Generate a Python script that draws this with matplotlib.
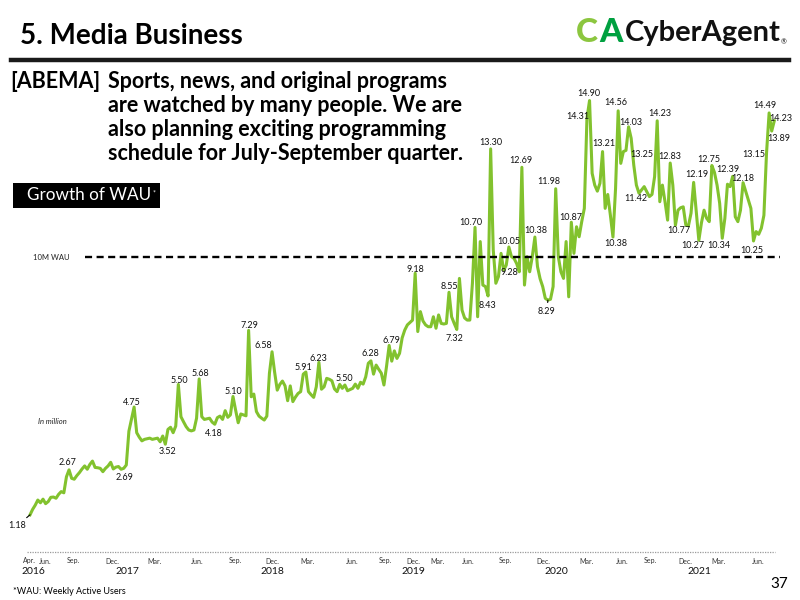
import matplotlib
matplotlib.use('Agg')
import matplotlib.pyplot as plt
from matplotlib.patches import Rectangle
from matplotlib.lines import Line2D

plt.rcParams['font.family'] = ['Lato', 'DejaVu Sans']

# ABEMA weekly active users (millions), one value per week, Apr 2016 -> Jun 2021
wau = [
    1.18, 1.36, 1.50, 1.67, 1.58, 1.70, 1.55, 1.62, 1.76, 1.77,
    1.73, 1.86, 1.95, 1.91, 2.44, 2.67, 2.39, 2.36, 2.48, 2.58,
    2.70, 2.80, 2.69, 2.85, 2.96, 2.75, 2.74, 2.72, 2.61, 2.72,
    2.80, 2.92, 2.70, 2.76, 2.78, 2.69, 2.72, 2.83, 3.95, 4.35,
    4.75, 3.90, 3.75, 3.63, 3.68, 3.70, 3.72, 3.68, 3.70, 3.72,
    3.60, 3.79, 3.52, 4.01, 4.08, 3.90, 4.12, 5.50, 4.43, 4.26,
    4.10, 3.99, 3.96, 3.99, 4.38, 5.68, 4.43, 4.34, 4.36, 4.38,
    4.25, 4.18, 4.40, 4.45, 4.34, 4.63, 4.41, 4.49, 5.10, 4.65,
    4.23, 4.52, 4.49, 4.46, 7.29, 5.09, 5.18, 4.60, 4.45, 4.38,
    4.32, 4.45, 5.87, 6.58, 5.90, 5.31, 5.50, 5.61, 5.45, 4.96,
    5.45, 4.93, 5.08, 5.20, 5.26, 5.84, 5.91, 5.26, 5.16, 5.07,
    5.42, 6.23, 5.34, 5.42, 5.70, 5.67, 5.62, 5.35, 5.26, 5.50,
    5.37, 5.48, 5.29, 5.33, 5.37, 5.51, 5.37, 5.57, 5.51, 5.75,
    6.20, 6.28, 5.84, 6.14, 6.00, 5.87, 5.48, 6.10, 6.79, 6.27,
    6.61, 6.36, 6.53, 7.04, 7.30, 7.47, 7.55, 7.63, 9.18, 7.25,
    7.91, 7.60, 7.47, 7.41, 7.41, 7.74, 7.36, 7.80, 7.52, 7.50,
    7.52, 8.55, 7.74, 7.52, 7.32, 9.01, 7.96, 7.70, 7.63, 7.63,
    8.85, 10.70, 7.74, 10.23, 8.79, 8.74, 8.43, 13.30, 9.95, 8.85,
    9.07, 9.84, 9.28, 9.45, 10.05, 9.73, 9.67, 9.50, 9.23, 12.69,
    8.79, 9.73, 9.23, 9.73, 10.38, 9.40, 9.00, 8.74, 8.35, 8.29,
    8.32, 8.74, 11.98, 9.73, 9.23, 9.01, 10.23, 8.40, 10.87, 9.84,
    10.72, 10.39, 10.89, 11.33, 14.31, 14.90, 12.49, 12.10, 11.90, 12.16,
    13.21, 11.33, 11.79, 11.11, 10.38, 11.99, 14.56, 12.82, 13.21, 13.25,
    14.03, 13.65, 12.76, 12.10, 11.83, 11.94, 12.05, 11.88, 11.72, 11.79,
    12.38, 14.23, 11.55, 12.10, 11.55, 10.94, 12.83, 12.10, 10.77, 11.27,
    11.35, 11.38, 10.78, 10.75, 11.17, 12.19, 11.24, 10.27, 10.85, 11.27,
    11.00, 10.89, 12.75, 12.52, 12.10, 11.50, 10.34, 11.00, 12.13, 12.05,
    12.39, 11.05, 10.89, 11.27, 12.18, 11.90, 11.61, 11.33, 10.25, 10.56,
    10.47, 10.67, 11.10, 13.15, 14.49, 13.89, 14.23,
]

# labelled weeks and the figures printed next to them
label_weeks = [0, 15, 35, 40, 52, 57, 65, 71, 78, 84, 93, 106, 111, 119, 131, 138,
               148, 164, 161, 171, 177, 176, 184, 182, 189, 194, 202, 199, 208,
               214, 215, 220, 224, 226, 230, 229, 235, 241, 246, 248, 255, 257,
               262, 266, 270, 274, 278, 283, 284, 285, 286]
label_texts = ['1.18', '2.67', '2.69', '4.75', '3.52', '5.50', '5.68', '4.18', '5.10',
               '7.29', '6.58', '5.91', '6.23', '5.50', '6.28', '6.79', '9.18', '7.32',
               '8.55', '10.70', '13.30', '8.43', '10.05', '9.28', '12.69', '10.38',
               '11.98', '8.29', '10.87', '14.31', '14.90', '13.21', '10.38', '14.56',
               '14.03', '13.25', '11.42', '14.23', '12.83', '10.77', '12.19', '10.27',
               '12.75', '10.34', '12.39', '12.18', '10.25', '13.15', '14.49', '13.89',
               '14.23']
# text offset from the point, in pixels (x right, y up)
label_offsets = [(-13, -11), (-2, 7), (3, -8), (-2, 5), (2, -7), (1, 4), (1, 5), (-1, -9),
                 (0, 5), (1, 5), (-9, 6), (-2, 5), (0, 4), (5, 6), (-1, 7), (2, 5),
                 (0, 4), (-2, -9), (0, 6), (-4, 5), (0, 6), (-1, -10), (0, 6), (6, -2),
                 (-1, 7), (1, 7), (-7, 7), (-1, -11), (-1, 5), (-9, 2), (-1, 7), (1, 8),
                 (3, -6), (-2, 8), (2, 4), (16, -4), (-6, -9), (3, 7), (0, 7), (3, -5),
                 (3, 8), (-6, -5), (-3, 6), (-3, -7), (-5, 7), (0, 4), (-2, -10),
                 (-13, -1), (-4, 7), (7, -7), (7, 2)]
leader_labels = ['1.18', '8.29']

month_labels = ['Apr.', 'Jun.', 'Sep.', 'Dec.', 'Mar.', 'Jun.', 'Sep.', 'Dec.',
                'Mar.', 'Jun.', 'Sep.', 'Dec.', 'Mar.', 'Jun.', 'Sep.', 'Dec.',
                'Mar.', 'Jun.', 'Sep.', 'Dec.', 'Mar.', 'Jun.']
month_pos = [-0.4, 5.8, 16.5, 31.5, 48.0, 64.2, 78.8, 93.0, 106.8, 123.7, 136.4,
             147.2, 156.4, 168.3, 182.5, 197.1, 214.0, 227.6, 238.2, 251.7, 264.4, 279.7]
year_labels = ['2016', '2017', '2018', '2019', '2020', '2021']
year_pos = [1.2, 37.3, 93.0, 147.2, 202.1, 257.1]

TEN_M_LEVEL = 9.72   # where the reference draws its "10M WAU" line
GREEN = '#82C22E'


def fx(x):
    return x / 800


def fy(y):
    return 1 - y / 600


fig = plt.figure(figsize=(8, 6), dpi=100)
ax = fig.add_axes([0, 0, 1, 1])
ax.set_xlim(-11.53, 295.87)
ax.set_ylim(-1.64, 18.23)
ax.axis('off')

weeks = list(range(len(wau)))
ax.plot(weeks, wau, color=GREEN, lw=2.2, solid_joinstyle='round', zorder=3)

# 10M reference line
ax.hlines(TEN_M_LEVEL, 21.1, 288.2, colors='black', lw=1.7,
          linestyles=(0, (3.0, 1.9)), zorder=4)
fig.text(fx(33), fy(257), '10M WAU', fontsize=5.5, va='center', color='#222')

# bottom axis
ax.hlines(-0.05, -1.15, 286.4, colors='#9a9a9a', lw=0.9, linestyles=(0, (1, 1)))
xt = ax.get_xaxis_transform()
for p, m in zip(month_pos, month_labels):
    ax.text(p, fy(561), m, transform=xt, fontsize=5, ha='center', va='center', color='#333')
for p, yl in zip(year_pos, year_labels):
    ax.text(p, fy(571.5), yl, transform=xt, fontsize=7.5, ha='center', va='center', color='#111')

for w, t, (dx, dy) in zip(label_weeks, label_texts, label_offsets):
    arrow = None
    if t in leader_labels:
        arrow = dict(arrowstyle='-', color='black', lw=0.8, shrinkA=1, shrinkB=0)
    ax.annotate(t, xy=(w, wau[w]), xytext=(dx, dy), textcoords='offset pixels',
                ha='center', va='center', fontsize=6.5, color='#111',
                arrowprops=arrow, zorder=5)

fig.text(fx(38), fy(422), 'In million', fontsize=5.5, style='italic', va='center', color='#222')

# header
fig.text(fx(20), fy(36), '5. Media Business', fontsize=20, fontweight='bold', va='center')
fig.add_artist(Line2D([fx(11), fx(789)], [fy(59.5), fy(59.5)], color='#1a1a1a', lw=3.2))
fig.text(fx(576), fy(33), 'C', color='#8CC63F', fontsize=24, fontweight='black', va='center')
fig.text(fx(599), fy(33), 'A', color='#00A040', fontsize=24, fontweight='black', va='center')
fig.text(fx(625), fy(33), 'CyberAgent', color='#111', fontsize=21, fontweight='bold', va='center')
fig.text(fx(781), fy(42), '\u00ae', color='#111', fontsize=5, va='center')

fig.text(fx(10), fy(82), '[ABEMA]', fontsize=15.5, fontweight='bold', va='center')
body = ['Sports, news, and original programs',
        'are watched by many people. We are',
        'also planning exciting programming',
        'schedule for July-September quarter.']
for k, line in enumerate(body):
    fig.text(fx(108), fy(82 + 23.7 * k), line, fontsize=15.5, fontweight='bold', va='center')

fig.add_artist(Rectangle((fx(13), fy(208)), fx(147), 25 / 600, color='black', lw=0))
fig.text(fx(27), fy(195.5), 'Growth of WAU', color='white', fontsize=12.3, va='center')
fig.text(fx(153), fy(193), '*', color='white', fontsize=5, va='center')

fig.text(fx(13), fy(592), '*WAU: Weekly Active Users', fontsize=6.5, va='center')
fig.text(fx(788), fy(584), '37', fontsize=11, ha='right', va='center')

fig.savefig('out.png', dpi=100)
